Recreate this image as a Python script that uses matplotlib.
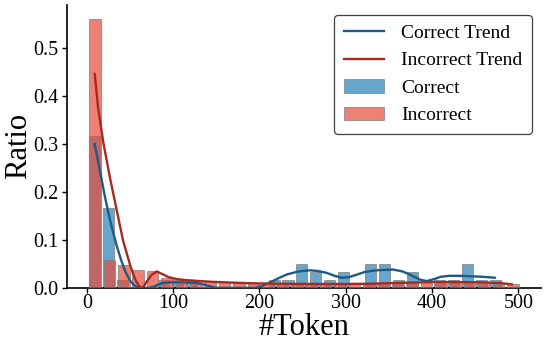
import numpy as np
import matplotlib
matplotlib.use("Agg")
import matplotlib.pyplot as plt
from matplotlib.lines import Line2D
from matplotlib.patches import Patch

plt.rcParams['font.family'] = ['Liberation Serif', 'DejaVu Serif']

# ---- data ----
correct_bin_start = 1.0
correct_bin_width = 16.0
correct_ratio = [0.317, 0.167, 0.017, 0.0, 0.0, 0.017, 0.017, 0.017, 0.0, 0.0,
                 0.0, 0.0, 0.0, 0.017, 0.017, 0.050, 0.033, 0.017, 0.033, 0.0,
                 0.050, 0.050, 0.017, 0.033, 0.0, 0.017, 0.017, 0.050, 0.017, 0.017]

incorrect_bin_start = 1.0
incorrect_bin_width = 16.7
incorrect_ratio = [0.560, 0.058, 0.048, 0.037, 0.034, 0.020, 0.019, 0.017, 0.014, 0.012,
                   0.012, 0.011, 0.010, 0.010, 0.009, 0.008, 0.009, 0.008, 0.009, 0.010,
                   0.010, 0.011, 0.012, 0.011, 0.011, 0.010, 0.010, 0.009, 0.008, 0.008]

correct_trend_x = [9, 15, 20, 25, 30, 35, 40, 45, 50, 55, 60, 65, 72, 77, 82, 88, 95, 105,
                   115, 125, 135, 145, 150, 160, 180, 195, 203, 212, 222, 232, 245, 258,
                   268, 278, 287, 295, 303, 312, 322, 333, 345, 355, 366, 376, 386, 394,
                   402, 410, 420, 432, 445, 458, 473]
correct_trend_y = [0.300, 0.245, 0.198, 0.155, 0.118, 0.085, 0.056, 0.032, 0.015, 0.005,
                   0.0, 0.0, 0.0, 0.002, 0.006, 0.010, 0.0115, 0.0115, 0.011, 0.0105,
                   0.007, 0.002, 0.0, 0.0, 0.0, 0.0, 0.004, 0.011, 0.020, 0.028, 0.034,
                   0.0365, 0.035, 0.031, 0.025, 0.021, 0.022, 0.027, 0.033, 0.036, 0.0375,
                   0.038, 0.034, 0.026, 0.017, 0.014, 0.018, 0.023, 0.025, 0.025, 0.024,
                   0.023, 0.021]

incorrect_trend_x = [9, 13, 19, 27, 35, 42, 50, 56, 61, 65, 69, 75, 81, 87, 95, 105, 115,
                     127, 145, 166, 190, 210, 240, 270, 300, 330, 366, 400, 430, 455, 480, 493]
incorrect_trend_y = [0.446, 0.375, 0.303, 0.227, 0.158, 0.098, 0.048, 0.017, 0.002, 0.0,
                     0.012, 0.027, 0.034, 0.029, 0.022, 0.018, 0.016, 0.0145, 0.0125, 0.011,
                     0.0095, 0.0088, 0.0082, 0.0080, 0.0080, 0.0085, 0.0105, 0.012, 0.012,
                     0.0115, 0.0098, 0.007]

x_ticks = [0, 100, 200, 300, 400, 500]
y_ticks = [0.0, 0.1, 0.2, 0.3, 0.4, 0.5]

# ---- style ----
bar_correct = "#2980B9"
bar_incorrect = "#E74C3C"
line_correct = "#1F5A85"
line_incorrect = "#A52A22"
alpha = 0.7
shrink = 0.8

fig = plt.figure(figsize=(5.48, 3.51), dpi=100)
ax = fig.add_axes([0.1223, 0.18, 0.987 - 0.1223, 0.986 - 0.18])

c_centers = correct_bin_start + correct_bin_width * (np.arange(len(correct_ratio)) + 0.5)
i_centers = incorrect_bin_start + incorrect_bin_width * (np.arange(len(incorrect_ratio)) + 0.5)

ax.bar(c_centers, correct_ratio, width=correct_bin_width * shrink, color=bar_correct,
       alpha=alpha, edgecolor="gray", linewidth=0.8, zorder=2)
ax.bar(i_centers, incorrect_ratio, width=incorrect_bin_width * shrink, color=bar_incorrect,
       alpha=alpha, edgecolor="gray", linewidth=0.8, zorder=3)

ax.plot(correct_trend_x, correct_trend_y, color=line_correct, lw=1.7, zorder=4,
        solid_joinstyle="round", solid_capstyle="round")
ax.plot(incorrect_trend_x, incorrect_trend_y, color=line_incorrect, lw=1.7, zorder=5,
        solid_joinstyle="round", solid_capstyle="round")

ax.set_xlim(-23, 526)
ax.set_ylim(0, 0.589)
ax.set_xticks(x_ticks)
ax.set_yticks(y_ticks)
ax.set_xticklabels([str(t) for t in x_ticks])
ax.set_yticklabels([f"{t:.1f}" for t in y_ticks])
ax.tick_params(axis="both", labelsize=14.5, length=3.5, width=1, direction="out", pad=2.5)
ax.tick_params(axis="x", pad=1)
for s in ["top", "right"]:
    ax.spines[s].set_visible(False)
for s in ["left", "bottom"]:
    ax.spines[s].set_linewidth(1.2)

ax.set_xlabel("#Token", fontsize=22, labelpad=0)
ax.set_ylabel("Ratio", fontsize=22)
ax.yaxis.set_label_coords(-0.072, 0.5)

handles = [
    Line2D([0], [0], color=line_correct, lw=1.7),
    Line2D([0], [0], color=line_incorrect, lw=1.7),
    Patch(facecolor=bar_correct, alpha=alpha, edgecolor="gray", linewidth=0.8),
    Patch(facecolor=bar_incorrect, alpha=alpha, edgecolor="gray", linewidth=0.8),
]
labels = ["Correct Trend", "Incorrect Trend", "Correct", "Incorrect"]
leg = ax.legend(handles, labels, loc="upper right", fontsize=14, frameon=True,
                fancybox=True, framealpha=1, edgecolor="0.25",
                handlelength=2.1, handletextpad=0.85, borderpad=0.5, labelspacing=0.5,
                borderaxespad=0, bbox_to_anchor=(0.981, 0.965))
leg.get_frame().set_linewidth(0.9)

fig.savefig("out.png", dpi=100)
